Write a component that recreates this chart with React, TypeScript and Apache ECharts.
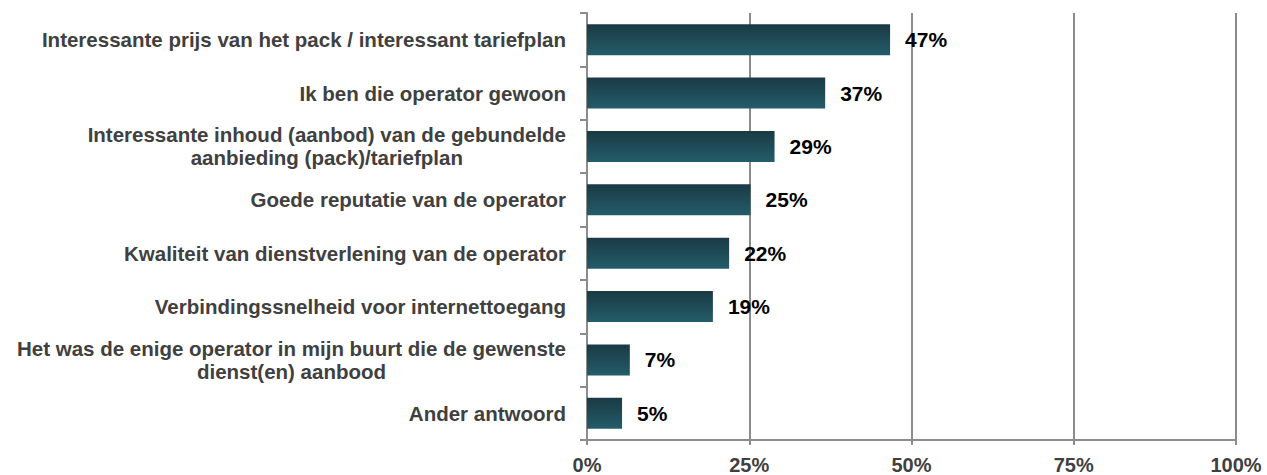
import React, { useEffect, useRef } from "react";
import * as echarts from "echarts";

const categories = [
  "Interessante prijs van het pack / interessant tariefplan",
  "Ik ben die operator gewoon",
  "Interessante inhoud (aanbod) van de gebundelde\naanbieding (pack)/tariefplan",
  "Goede reputatie van de operator",
  "Kwaliteit van dienstverlening van de operator",
  "Verbindingssnelheid voor internettoegang",
  "Het was de enige operator in mijn buurt die de gewenste\ndienst(en) aanbood",
  "Ander antwoord",
];
const values = [46.7, 36.7, 28.9, 25.2, 21.9, 19.4, 6.6, 5.4];
const tickValues = [0, 25, 50, 75, 100];

export default function App() {
  const ref = useRef<HTMLDivElement>(null);
  useEffect(() => {
    if (!ref.current) return;
    const chart = echarts.init(ref.current, null, { renderer: "svg" });
    const font = "'Liberation Sans', Arial, sans-serif";
    chart.setOption({
      animation: false,
      grid: { left: 587, right: 31, top: 13, bottom: 33, containLabel: false },
      xAxis: {
        type: "value",
        min: tickValues[0],
        max: tickValues[tickValues.length - 1],
        interval: 25,
        axisLine: { show: true, lineStyle: { color: "#8c8c8c", width: 2 } },
        axisTick: { show: true, length: 5, lineStyle: { color: "#8c8c8c", width: 2 } },
        splitLine: { show: true, lineStyle: { color: "#8c8c8c", width: 2 } },
        axisLabel: {
          formatter: (v: number) => `${v}%`,
          color: "#404040",
          fontFamily: font,
          fontWeight: "bold",
          fontSize: 20,
          margin: 15,
        },
      },
      yAxis: {
        type: "category",
        data: categories,
        inverse: true,
        axisLine: { show: true, lineStyle: { color: "#8c8c8c", width: 2 } },
        axisTick: { show: true, length: 7, lineStyle: { color: "#8c8c8c", width: 2 } },
        axisLabel: {
          color: "#404040",
          fontFamily: font,
          fontWeight: "bold",
          fontSize: 20.5,
          margin: 21,
          lineHeight: 23,
          formatter: (v: string) =>
            v
              .split("\n")
              .map((l) => `{c|${l}}`)
              .join("\n"),
          rich: {
            c: {
              align: "center",
              color: "#404040",
              fontFamily: font,
              fontWeight: "bold",
              fontSize: 20.5,
              lineHeight: 23,
            },
          },
        },
      },
      series: [
        {
          type: "bar",
          data: values,
          barCategoryGap: "42%",
          itemStyle: {
            color: new echarts.graphic.LinearGradient(0, 0, 0, 1, [
              { offset: 0, color: "#1a3a44" },
              { offset: 1, color: "#245c6a" },
            ]),
          },
          label: {
            show: true,
            position: "right",
            distance: 15,
            formatter: (p: any) => `${Math.round(p.value)}%`,
            color: "#000000",
            fontFamily: font,
            fontWeight: "bold",
            fontSize: 21,
          },
        },
      ],
    });
    return () => chart.dispose();
  }, []);
  return <div ref={ref} style={{ width: 1267, height: 475, position: "absolute", left: 0, top: 0 }} />;
}
